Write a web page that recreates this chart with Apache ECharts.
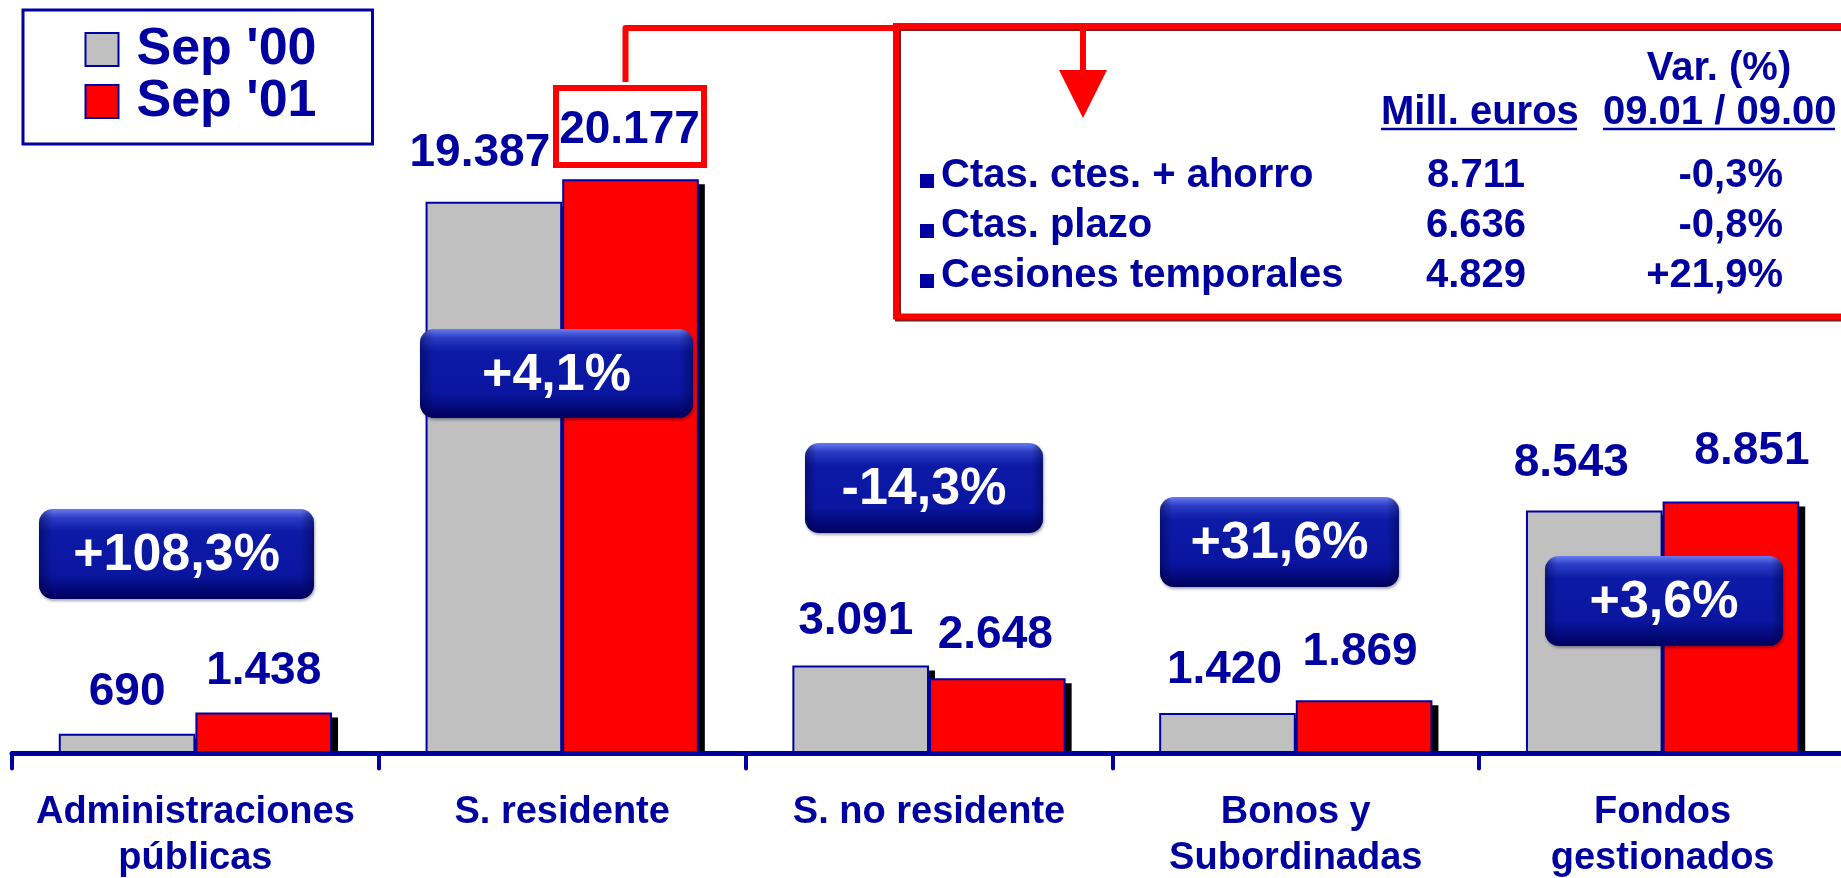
<!DOCTYPE html>
<html>
<head>
<meta charset="utf-8">
<script src="https://cdn.jsdelivr.net/npm/echarts@6/dist/echarts.min.js"></script>
<style>
  html, body { margin: 0; padding: 0; background: #ffffff; }
  #chart { width: 1841px; height: 878px; }
</style>
</head>
<body>
<div id="chart"></div>
<script>
// Depósitos por segmento, millones de euros
var categories = ['Administraciones\npúblicas', 'S. residente', 'S. no residente', 'Bonos y\nSubordinadas', 'Fondos\ngestionados'];
var sep00 = [690, 19387, 3091, 1420, 8543];
var sep01 = [1438, 20177, 2648, 1869, 8851];
var variations = ['+108,3%', '+4,1%', '-14,3%', '+31,6%', '+3,6%'];

// Desglose del sector residente
var detailRows = ['Ctas. ctes. + ahorro', 'Ctas. plazo', 'Cesiones temporales'];
var detailAmounts = [8711, 6636, 4829];
var detailChanges = ['-0,3%', '-0,8%', '+21,9%'];

var seriesNames = ["Sep '00", "Sep '01"];

// ---- layout / styling ----
var BLUE = '#0000A0';
var RED = '#FF0000';
var FONT = '"Liberation Sans", Arial, Helvetica, sans-serif';
var CAT_GAP = 0.255;
var labelShift00 = [[0, 3], [-14, -3], [-5, 1], [-3, 2], [-23, -2]];
var labelShift01 = [[0, 4], [-1, -4], [-2, 2], [-4, -3], [21, -5]];
var badgeBoxes = [[39, 509, 275, 90], [420, 329, 273, 89], [805, 443, 238, 90], [1160, 497, 239, 90], [1545, 556, 238, 90]];

function fmt(v) {
  return String(v).replace(/\B(?=(\d{3})+(?!\d))/g, '.');
}

function barItems(values, shifts) {
  return values.map(function (v, i) {
    return { value: v, label: { offset: shifts[i] } };
  });
}

function shadowSeries(values, side) {
  return {
    type: 'custom',
    name: 'sombra' + side,
    z: 1,
    silent: true,
    data: values.map(function (v, i) { return [i, v]; }),
    encode: { x: 0, y: 1 },
    renderItem: function (params, api) {
      var cat = api.value(0), v = api.value(1);
      var top = api.coord([cat, v]);
      var base = api.coord([cat, 0]);
      var band = api.size([1, 0])[0];
      var bw = band * (1 - CAT_GAP) / 2;
      var x0 = side === 0 ? top[0] - bw : top[0];
      return {
        type: 'rect',
        shape: { x: x0 + 6, y: top[1] + 5, width: bw, height: Math.max(0, base[1] - top[1] - 5) },
        style: { fill: '#000000' }
      };
    }
  };
}

function txt(text, x, baseline, size, align, color, z) {
  return {
    type: 'text',
    z: z || 50,
    style: {
      text: text, x: x, y: baseline - 0.31 * size,
      font: 'bold ' + size + 'px ' + FONT,
      fill: color || BLUE,
      align: align || 'left', verticalAlign: 'middle',
      textAlign: align || 'left', textVerticalAlign: 'middle'
    }
  };
}

var graphics = [];

// variation badges
variations.forEach(function (t, i) {
  var b = badgeBoxes[i];
  graphics.push({
    type: 'rect', z: 60,
    shape: { x: b[0], y: b[1], width: b[2], height: b[3], r: 14 },
    style: {
      fill: new echarts.graphic.LinearGradient(0, 0, 0, 1, [
        { offset: 0, color: '#6a7af0' },
        { offset: 0.1, color: '#2a3cc4' },
        { offset: 0.25, color: '#0c1aa6' },
        { offset: 0.72, color: '#0a16a0' },
        { offset: 1, color: '#00005e' }
      ]),
      shadowColor: 'rgba(0,0,40,0.35)', shadowBlur: 3, shadowOffsetX: 1, shadowOffsetY: 2
    }
  });
  graphics.push({
    type: 'rect', z: 61,
    shape: { x: b[0], y: b[1], width: b[2], height: b[3], r: 14 },
    style: {
      fill: new echarts.graphic.LinearGradient(0, 0, 1, 0, [
        { offset: 0, color: 'rgba(0,0,60,0.45)' },
        { offset: 0.05, color: 'rgba(0,0,60,0)' },
        { offset: 0.95, color: 'rgba(0,0,60,0)' },
        { offset: 1, color: 'rgba(0,0,60,0.45)' }
      ])
    }
  });
  graphics.push({
    type: 'text', z: 62,
    style: {
      text: t, x: b[0] + b[2] / 2, y: b[1] + b[3] / 2 + 2,
      font: 'bold 52px ' + FONT, fill: '#ffffff',
      align: 'center', verticalAlign: 'middle',
      textAlign: 'center', textVerticalAlign: 'middle'
    }
  });
});

// highlight box around the S. residente Sep '01 value and its connector
graphics.push({
  type: 'rect', z: 40,
  shape: { x: 556, y: 88, width: 148, height: 77 },
  style: { fill: 'none', stroke: RED, lineWidth: 6 }
});
graphics.push({
  type: 'polyline', z: 40,
  shape: { points: [[625.5, 82], [625.5, 28], [896, 28]] },
  style: { stroke: RED, lineWidth: 6, lineJoin: 'round', lineCap: 'butt', fill: 'none' }
});

// detail table frame
graphics.push({
  type: 'rect', z: 40,
  shape: { x: 896, y: 26, width: 980, height: 290.5 },
  style: {
    fill: 'none', stroke: RED, lineWidth: 6,
    shadowColor: 'rgba(120,0,0,0.9)', shadowBlur: 0, shadowOffsetX: 2, shadowOffsetY: 2
  }
});
// arrow into the table
graphics.push({
  type: 'line', z: 41,
  shape: { x1: 1083, y1: 28, x2: 1083, y2: 72 },
  style: { stroke: RED, lineWidth: 6 }
});
graphics.push({
  type: 'polygon', z: 41,
  shape: { points: [[1059, 70], [1107, 70], [1083, 118]] },
  style: { fill: RED }
});

// table headers
graphics.push(txt('Var. (%)', 1719, 81, 40, 'center'));
graphics.push(txt('Mill. euros', 1381, 125, 40, 'left'));
graphics.push(txt('09.01 / 09.00', 1603, 125, 40, 'left'));
graphics.push({ type: 'line', z: 50, shape: { x1: 1381, y1: 129, x2: 1577, y2: 129 }, style: { stroke: BLUE, lineWidth: 2.5 } });
graphics.push({ type: 'line', z: 50, shape: { x1: 1603, y1: 129, x2: 1835, y2: 129 }, style: { stroke: BLUE, lineWidth: 2.5 } });

// table rows
var rowBaselines = [188, 238, 288];
detailRows.forEach(function (name, i) {
  var bl = rowBaselines[i];
  graphics.push({ type: 'rect', z: 50, shape: { x: 920, y: bl - 14, width: 14, height: 14 }, style: { fill: BLUE } });
  graphics.push(txt(name, 941, bl, 40, 'left'));
  graphics.push(txt(fmt(detailAmounts[i]), 1476, bl, 40, 'center'));
  graphics.push(txt(detailChanges[i], 1783, bl, 40, 'right'));
});

var barLabel = {
  show: true,
  position: 'top',
  distance: 22,
  color: BLUE,
  fontFamily: FONT,
  fontWeight: 'bold',
  fontSize: 46,
  formatter: function (p) { return fmt(p.value); }
};

var chart = echarts.init(document.getElementById('chart'), null, { renderer: 'canvas' });

chart.setOption({
  animation: false,
  backgroundColor: '#ffffff',
  grid: { left: 12, width: 1834, top: 13.6, bottom: 124.5, containLabel: false, outerBoundsMode: 'none' },
  legend: {
    data: seriesNames,
    orient: 'vertical',
    left: 23, top: 10,
    itemWidth: 33, itemHeight: 33,
    itemGap: 0,
    icon: 'rect',
    borderColor: BLUE, borderWidth: 3,
    padding: [13.5, 56, 16.5, 61.5],
    selectedMode: false,
    itemStyle: { borderColor: BLUE, borderWidth: 2 },
    textStyle: {
      color: BLUE, fontFamily: FONT, fontWeight: 'bold', fontSize: 52,
      lineHeight: 50, padding: [0, 0, 0, 13]
    }
  },
  xAxis: {
    type: 'category',
    data: categories,
    z: 3,
    axisLine: { show: true, lineStyle: { color: BLUE, width: 5 } },
    axisTick: { show: true, length: 15, lineStyle: { color: BLUE, width: 4, cap: 'round' } },
    axisLabel: {
      interval: 0, margin: 36,
      color: BLUE, fontFamily: FONT, fontWeight: 'bold', fontSize: 38, lineHeight: 46
    },
    splitLine: { show: false }
  },
  yAxis: {
    type: 'value', min: 0, max: 26000, show: false,
    splitLine: { show: false }
  },
  series: [
    shadowSeries(sep00, 0),
    shadowSeries(sep01, 1),
    {
      name: seriesNames[0], type: 'bar', z: 2,
      barGap: '0%', barCategoryGap: (CAT_GAP * 100) + '%',
      itemStyle: { color: '#C0C0C0', borderColor: BLUE, borderWidth: 2 },
      label: barLabel,
      data: barItems(sep00, labelShift00)
    },
    {
      name: seriesNames[1], type: 'bar', z: 2,
      barGap: '0%', barCategoryGap: (CAT_GAP * 100) + '%',
      itemStyle: { color: RED, borderColor: BLUE, borderWidth: 2 },
      label: barLabel,
      data: barItems(sep01, labelShift01)
    }
  ],
  graphic: { elements: graphics }
});
</script>
</body>
</html>
